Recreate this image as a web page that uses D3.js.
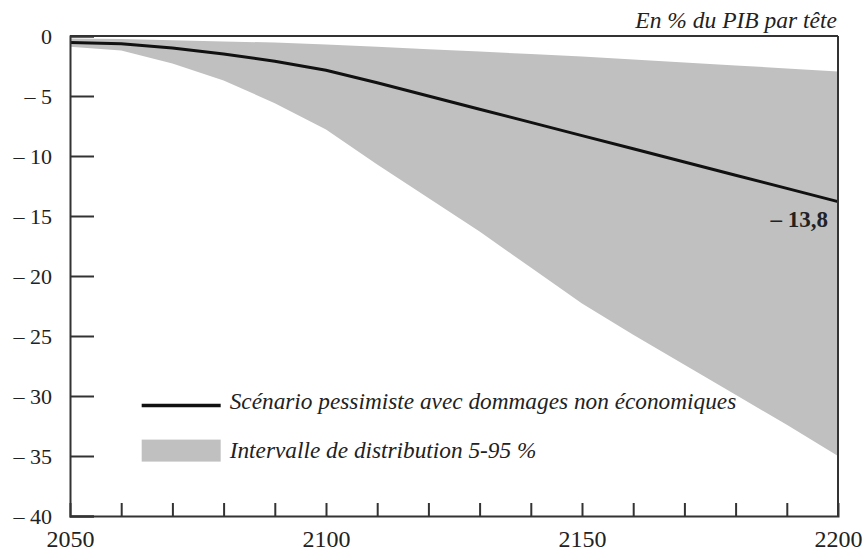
<!DOCTYPE html>
<html>
<head>
<meta charset="utf-8">
<script src="https://cdn.jsdelivr.net/npm/d3@7"></script>
<style>
  body { margin: 0; background: #fff; }
</style>
</head>
<body>
<div id="chart"></div>
<script>
var svgWidth = 863;
var svgHeight = 552;
var serif = "Liberation Serif";

// data
var years = [2050, 2060, 2070, 2080, 2090, 2100, 2110, 2120, 2130, 2140, 2150, 2160, 2170, 2180, 2190, 2200];
var scenario = [-0.55, -0.65, -1.0, -1.5, -2.1, -2.85, -3.9, -5.0, -6.1, -7.2, -8.3, -9.4, -10.5, -11.6, -12.7, -13.8];
var bandHigh = [-0.2, -0.25, -0.35, -0.45, -0.55, -0.7, -0.9, -1.1, -1.3, -1.5, -1.7, -1.95, -2.2, -2.45, -2.7, -2.95];
var bandLow = [-0.9, -1.2, -2.3, -3.7, -5.6, -7.8, -10.7, -13.5, -16.3, -19.3, -22.3, -24.9, -27.4, -29.9, -32.4, -35.0];
var yTicks = [0, -5, -10, -15, -20, -25, -30, -35, -40];
var xLabelTicks = [2050, 2100, 2150, 2200];
var xMinorTicks = [2060, 2070, 2080, 2090, 2100, 2110, 2120, 2130, 2140, 2150, 2160, 2170, 2180, 2190];
var endLabel = "– 13,8";
var unitLabel = "En % du PIB par tête";
var legendLine = "Scénario pessimiste avec dommages non économiques";
var legendBand = "Intervalle de distribution 5-95 %";

var margin = { top: 36, right: 25, bottom: 36, left: 70 };
var chartWidth = svgWidth - margin.left - margin.right;
var chartHeight = svgHeight - margin.top - margin.bottom;

var svg = d3.select("#chart")
  .append("svg")
  .attr("width", svgWidth)
  .attr("height", svgHeight)
  .attr("font-family", serif);

var chartGroup = svg.append("g")
  .attr("transform", `translate(${margin.left}, ${margin.top})`);

var xScale = d3.scaleLinear().domain([2050, 2200]).range([0, chartWidth]);
var yScale = d3.scaleLinear().domain([0, -40]).range([0, chartHeight]);

var rows = years.map(function(yr, i) {
  return { year: yr, mid: scenario[i], hi: bandHigh[i], lo: bandLow[i] };
});

// band
var area = d3.area()
  .x(d => xScale(d.year))
  .y0(d => yScale(d.lo))
  .y1(d => yScale(d.hi));

chartGroup.append("path")
  .datum(rows)
  .attr("d", area)
  .attr("fill", "#c0c0c0");

// scenario line
var line = d3.line()
  .x(d => xScale(d.year))
  .y(d => yScale(d.mid));

chartGroup.append("path")
  .datum(rows)
  .attr("d", line)
  .attr("fill", "none")
  .attr("stroke", "#111")
  .attr("stroke-width", 3);

// frame top & right
chartGroup.append("line")
  .attr("x1", 0).attr("x2", chartWidth)
  .attr("y1", 0).attr("y2", 0)
  .attr("stroke", "#333").attr("stroke-width", 2);
chartGroup.append("line")
  .attr("x1", chartWidth).attr("x2", chartWidth)
  .attr("y1", 0).attr("y2", chartHeight)
  .attr("stroke", "#333").attr("stroke-width", 2);

// y axis
var leftAxis = d3.axisLeft(yScale)
  .tickValues(yTicks)
  .tickSize(-24)
  .tickPadding(18)
  .tickFormat(d => d === 0 ? "0" : "– " + Math.abs(d));

var yAxis = chartGroup.append("g").call(leftAxis)
  .attr("font-family", serif)
  .attr("font-size", 22);
yAxis.select(".domain").attr("stroke", "#333").attr("stroke-width", 2);
yAxis.selectAll(".tick line").attr("stroke", "#333").attr("stroke-width", 2);
yAxis.selectAll(".tick text").attr("fill", "#222");

// x axis: inner ticks
var minorAxis = d3.axisBottom(xScale)
  .tickValues(xMinorTicks)
  .tickSize(-13)
  .tickFormat("");

var xAxis = chartGroup.append("g")
  .attr("transform", `translate(0, ${chartHeight})`)
  .call(minorAxis);
xAxis.select(".domain").attr("stroke", "#333").attr("stroke-width", 2);
xAxis.selectAll(".tick line").attr("stroke", "#333").attr("stroke-width", 2);

var labelAxis = d3.axisBottom(xScale)
  .tickValues(xLabelTicks)
  .tickSize(0)
  .tickFormat(d3.format("d"));

var xLabels = chartGroup.append("g")
  .attr("transform", `translate(0, ${chartHeight})`)
  .call(labelAxis)
  .attr("font-family", serif)
  .attr("font-size", 24);
xLabels.select(".domain").remove();
xLabels.selectAll(".tick text")
  .attr("y", 31)
  .attr("dy", null)
  .attr("fill", "#222");

// end value label
chartGroup.append("text")
  .attr("x", chartWidth - 10)
  .attr("y", yScale(scenario[scenario.length - 1]) + 25)
  .attr("text-anchor", "end")
  .attr("font-size", 23)
  .attr("font-weight", "bold")
  .attr("fill", "#222")
  .text(endLabel);

// unit label
svg.append("text")
  .attr("x", margin.left + chartWidth - 1)
  .attr("y", 28)
  .attr("text-anchor", "end")
  .attr("font-size", 23.5)
  .attr("font-style", "italic")
  .attr("fill", "#222")
  .text(unitLabel);

// legend
var legend = chartGroup.append("g")
  .attr("transform", `translate(${xScale(2064)}, ${yScale(-30.8)})`);

legend.append("line")
  .attr("x1", 0).attr("x2", 79)
  .attr("y1", 0).attr("y2", 0)
  .attr("stroke", "#111").attr("stroke-width", 3.5);

legend.append("text")
  .attr("x", 88)
  .attr("y", 3)
  .attr("font-size", 23.3)
  .attr("font-style", "italic")
  .attr("fill", "#222")
  .text(legendLine);

legend.append("rect")
  .attr("x", 0).attr("y", 34)
  .attr("width", 79).attr("height", 22)
  .attr("fill", "#c0c0c0");

legend.append("text")
  .attr("x", 88)
  .attr("y", 52)
  .attr("font-size", 23.3)
  .attr("font-style", "italic")
  .attr("fill", "#222")
  .text(legendBand);
</script>
</body>
</html>
